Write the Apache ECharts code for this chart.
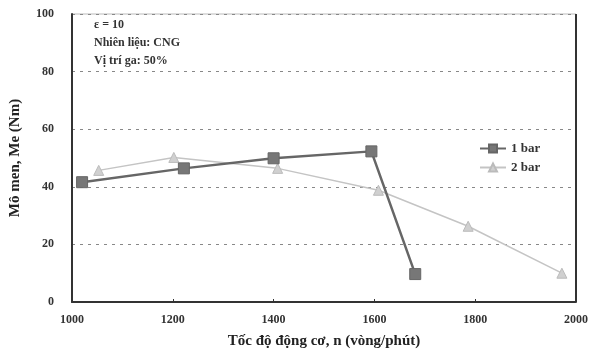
<!DOCTYPE html>
<html>
<head>
<meta charset="utf-8">
<script src="https://cdn.jsdelivr.net/npm/echarts@6/dist/echarts.min.js"></script>
<style>html,body{margin:0;padding:0;background:#fff;}#c{width:592px;height:357px;}</style>
</head>
<body>
<div id="c"></div>
<script>
const xTicks = [1000, 1200, 1400, 1600, 1800, 2000];
const yTicks = [0, 20, 40, 60, 80, 100];
const bar1Speed = [1020, 1222, 1400, 1594, 1681];
const bar1Torque = [41.6, 46.4, 49.9, 52.3, 9.7];
const bar2Speed = [1053, 1202, 1408, 1608, 1786, 1972];
const bar2Torque = [45.7, 50.2, 46.4, 38.8, 26.3, 10.0];
const seriesNames = ['1 bar', '2 bar'];
const notes = ['ε = 10', 'Nhiên liệu: CNG', 'Vị trí ga: 50%'];
const xTitle = 'Tốc độ động cơ, n (vòng/phút)';
const yTitle = 'Mô men, Me (Nm)';

const font = 'Liberation Serif';
const chart = echarts.init(document.getElementById('c'));
chart.setOption({
  animation: false,
  backgroundColor: '#fff',
  grid: {left: 71, right: 16, top: 14, bottom: 55, show: true, borderColor: '#bbb', borderWidth: 1},
  legend: {
    orient: 'vertical', left: 474, top: 137, itemGap: 6, itemWidth: 26, itemHeight: 10,
    textStyle: {fontFamily: font, fontWeight: 'bold', fontSize: 13, color: '#333'},
    data: seriesNames
  },
  graphic: notes.map((t, i) => ({
    type: 'text', left: 94, top: 19 + i * 18,
    style: {text: t, font: 'bold 12px "Liberation Serif"', fill: '#333'}
  })).concat([{
    type: 'line', shape: {x1: 576, y1: 14, x2: 576, y2: 302},
    style: {stroke: '#333', lineWidth: 2}
  }]),
  xAxis: {
    type: 'value', min: xTicks[0], max: xTicks[xTicks.length - 1], interval: 200,
    name: xTitle, nameLocation: 'middle', nameGap: 32,
    nameTextStyle: {fontFamily: font, fontWeight: 'bold', fontSize: 15, color: '#222'},
    axisLine: {lineStyle: {color: '#333', width: 2}},
    axisTick: {show: true, length: 3, inside: true, lineStyle: {color: '#333'}},
    axisLabel: {fontFamily: font, fontWeight: 'bold', fontSize: 12, color: '#333', margin: 12,
      formatter: v => String(v)},
    splitLine: {show: false}
  },
  yAxis: {
    type: 'value', min: yTicks[0], max: yTicks[yTicks.length - 1], interval: 20,
    name: yTitle, nameLocation: 'middle', nameGap: 49,
    nameTextStyle: {fontFamily: font, fontWeight: 'bold', fontSize: 15, color: '#222'},
    axisLine: {show: true, lineStyle: {color: '#333', width: 2}},
    axisTick: {show: false},
    axisLabel: {fontFamily: font, fontWeight: 'bold', fontSize: 12, color: '#333', margin: 18},
    splitLine: {show: true, lineStyle: {color: '#888', type: [3, 5], width: 1}}
  },
  series: [
    {
      name: seriesNames[0], type: 'line', z: 3,
      data: bar1Speed.map((x, i) => [x, bar1Torque[i]]),
      symbol: 'rect', symbolSize: 11,
      lineStyle: {color: '#666', width: 2.5},
      itemStyle: {color: '#777', borderColor: '#666', borderWidth: 1}
    },
    {
      name: seriesNames[1], type: 'line', z: 2,
      data: bar2Speed.map((x, i) => [x, bar2Torque[i]]),
      symbol: 'triangle', symbolSize: 10,
      lineStyle: {color: '#c4c4c4', width: 1.5},
      itemStyle: {color: '#d0d0d0', borderColor: '#bbb', borderWidth: 1}
    }
  ]
});
</script>
</body>
</html>
